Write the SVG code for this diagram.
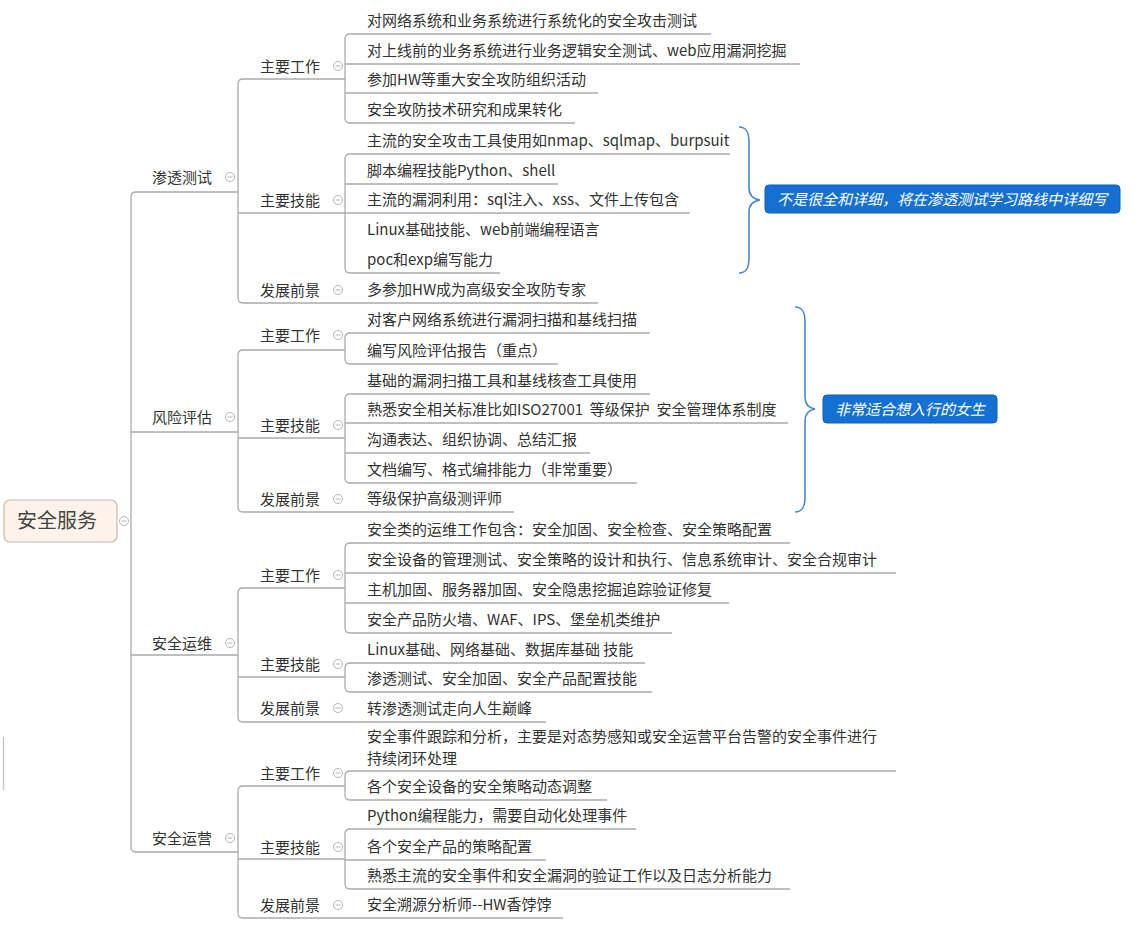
<svg xmlns="http://www.w3.org/2000/svg" width="1148" height="950" viewBox="0 0 1148 950">
<style>
text{font-family:"Noto Sans CJK SC","Microsoft YaHei","Noto Sans",sans-serif;fill:#333;font-size:15px}
.c{fill:none;stroke:#ababab;stroke-width:1.3}
.tog circle{fill:#fff;stroke:#b4b4b4;stroke-width:1}
.tog path{stroke:#b4b4b4;stroke-width:1}
.brace{fill:none;stroke:#4a86c8;stroke-width:1.6}
.call rect{fill:#1470d2;stroke:#0f5fb8;stroke-width:1}
.call text{fill:#fff;font-style:italic;font-size:15px}
</style>
<defs>
<g id="tg" class="tog"><circle r="4.5"/><path d="M-2.5,0H2.5"/></g>
</defs>
<rect width="1148" height="950" fill="#fff"/>
<path d="M3.5,737V790" stroke="#c8c8c8" stroke-width="1.5"/>
<g id="connectors">
<path class="c" d="M238,192H136Q131,192 131,197V847Q131,852 136,852H238M131,432H238M131,655H238"/>
<path class="c" d="M345,79H243Q238,79 238,84V298Q238,303 243,303H598M238,213H345"/>
<path class="c" d="M711,34H350Q345,34 345,39V118Q345,123 350,123H575M345,64H800M345,93H598"/>
<path class="c" d="M730,154H350Q345,154 345,159V268Q345,273 350,273H500M345,184H558M345,213H690"/>
<path class="c" d="M345,350H243Q238,350 238,355V507Q238,512 243,512H514M238,438H345"/>
<path class="c" d="M650,333H350Q345,333 345,338V359Q345,364 350,364H558"/>
<path class="c" d="M650,394H350Q345,394 345,399V478Q345,483 350,483H637M345,423H788M345,453H590"/>
<path class="c" d="M345,588H243Q238,588 238,593V717Q238,722 243,722H546M238,677H345"/>
<path class="c" d="M790,543H350Q345,543 345,548V628Q345,633 350,633H672M345,573H896M345,603H729"/>
<path class="c" d="M645,663H350Q345,663 345,668V687Q345,692 350,692H652"/>
<path class="c" d="M345,786H243Q238,786 238,791V913Q238,918 243,918H563M238,859H345"/>
<path class="c" d="M896,771H350Q345,771 345,776V795Q345,800 350,800H607"/>
<path class="c" d="M636,829H350Q345,829 345,834V884Q345,889 350,889H790M345,860H546"/>
<path class="brace" d="M739,127C747,127 749,133 749,142L749,188C749,196 753,199 760,200C753,201 749,204 749,212L749,258C749,267 747,273 739,273"/>
<path class="brace" d="M795,307C803,307 805,313 805,322L805,397C805,405 809,408 815,409C809,410 805,413 805,421L805,497C805,506 803,512 795,512"/>
</g>
<g id="root">
<rect x="4" y="500" width="113" height="42" rx="6" fill="#fdf3ea" stroke="#c9b9a9" stroke-width="1.2"/>
<text x="57" y="528" text-anchor="middle" style="font-size:20px;fill:#444">安全服务</text>
<use href="#tg" x="124" y="521"/>
</g>
<g id="n-stcs"><text x="152" y="182.5">渗透测试</text><use href="#tg" x="230" y="177"/></g>
<g id="n-stcs-work"><text x="260" y="71.5">主要工作</text><use href="#tg" x="338" y="66"/></g>
<g id="n-stcs-skill"><text x="260" y="205.5">主要技能</text><use href="#tg" x="338" y="200"/></g>
<g id="n-stcs-future"><text x="260" y="295.5">发展前景</text><use href="#tg" x="338" y="290"/></g>
<g id="l-stcs">
<text x="367" y="26">对网络系统和业务系统进行系统化的安全攻击测试</text>
<text x="367" y="56">对上线前的业务系统进行业务逻辑安全测试、web应用漏洞挖掘</text>
<text x="367" y="85">参加HW等重大安全攻防组织活动</text>
<text x="367" y="115">安全攻防技术研究和成果转化</text>
<text x="367" y="146">主流的安全攻击工具使用如nmap、sqlmap、burpsuit</text>
<text x="367" y="176">脚本编程技能Python、shell</text>
<text x="367" y="205">主流的漏洞利用：sql注入、xss、文件上传包含</text>
<text x="367" y="235">Linux基础技能、web前端编程语言</text>
<text x="367" y="265">poc和exp编写能力</text>
<text x="367" y="295">多参加HW成为高级安全攻防专家</text>
</g>
<g id="n-fxpg"><text x="152" y="422.5">风险评估</text><use href="#tg" x="230" y="417"/></g>
<g id="n-fxpg-work"><text x="260" y="340.5">主要工作</text><use href="#tg" x="338" y="335"/></g>
<g id="n-fxpg-skill"><text x="260" y="430.5">主要技能</text><use href="#tg" x="338" y="425"/></g>
<g id="n-fxpg-future"><text x="260" y="504.5">发展前景</text><use href="#tg" x="338" y="499"/></g>
<g id="l-fxpg">
<text x="367" y="325">对客户网络系统进行漏洞扫描和基线扫描</text>
<text x="367" y="356">编写风险评估报告（重点）</text>
<text x="367" y="386">基础的漏洞扫描工具和基线核查工具使用</text>
<text x="367" y="415" xml:space="preserve">熟悉安全相关标准比如ISO27001  等级保护  安全管理体系制度</text>
<text x="367" y="445">沟通表达、组织协调、总结汇报</text>
<text x="367" y="475">文档编写、格式编排能力（非常重要）</text>
<text x="367" y="504">等级保护高级测评师</text>
</g>
<g id="n-aqyw"><text x="152" y="648.5">安全运维</text><use href="#tg" x="230" y="643"/></g>
<g id="n-aqyw-work"><text x="260" y="580.5">主要工作</text><use href="#tg" x="338" y="575"/></g>
<g id="n-aqyw-skill"><text x="260" y="669.5">主要技能</text><use href="#tg" x="338" y="664"/></g>
<g id="n-aqyw-future"><text x="260" y="713.5">发展前景</text><use href="#tg" x="338" y="708"/></g>
<g id="l-aqyw">
<text x="367" y="535">安全类的运维工作包含：安全加固、安全检查、安全策略配置</text>
<text x="367" y="565">安全设备的管理测试、安全策略的设计和执行、信息系统审计、安全合规审计</text>
<text x="367" y="595">主机加固、服务器加固、安全隐患挖掘追踪验证修复</text>
<text x="367" y="625">安全产品防火墙、WAF、IPS、堡垒机类维护</text>
<text x="367" y="655">Linux基础、网络基础、数据库基础 技能</text>
<text x="367" y="684">渗透测试、安全加固、安全产品配置技能</text>
<text x="367" y="714">转渗透测试走向人生巅峰</text>
</g>
<g id="n-aqyy"><text x="152" y="843.5">安全运营</text><use href="#tg" x="230" y="838"/></g>
<g id="n-aqyy-work"><text x="260" y="778.5">主要工作</text><use href="#tg" x="338" y="773"/></g>
<g id="n-aqyy-skill"><text x="260" y="852.5">主要技能</text><use href="#tg" x="338" y="847"/></g>
<g id="n-aqyy-future"><text x="260" y="910.5">发展前景</text><use href="#tg" x="338" y="905"/></g>
<g id="l-aqyy">
<text x="367" y="742">安全事件跟踪和分析，主要是对态势感知或安全运营平台告警的安全事件进行</text>
<text x="367" y="764">持续闭环处理</text>
<text x="367" y="792">各个安全设备的安全策略动态调整</text>
<text x="367" y="821">Python编程能力，需要自动化处理事件</text>
<text x="367" y="852">各个安全产品的策略配置</text>
<text x="367" y="881">熟悉主流的安全事件和安全漏洞的验证工作以及日志分析能力</text>
<text x="367" y="910">安全溯源分析师--HW香饽饽</text>
</g>
<g id="callout1" class="call">
<rect x="765" y="185" width="355" height="28" rx="4"/>
<text x="942" y="204.5" text-anchor="middle">不是很全和详细，将在渗透测试学习路线中详细写</text>
</g>
<g id="callout2" class="call">
<rect x="823" y="395" width="174" height="28" rx="4"/>
<text x="910" y="414.5" text-anchor="middle">非常适合想入行的女生</text>
</g>
</svg>
